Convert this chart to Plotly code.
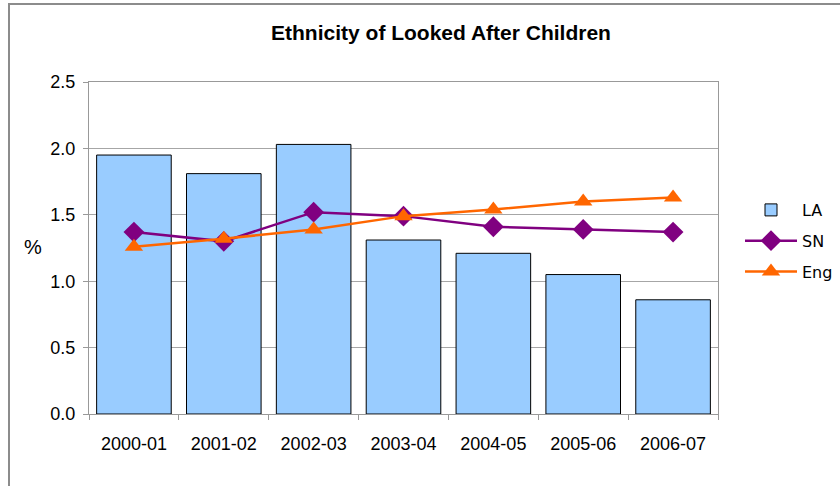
import plotly.graph_objects as go

categories = ["2000-01", "2001-02", "2002-03", "2003-04", "2004-05", "2005-06", "2006-07"]
la_values = [1.95, 1.81, 2.03, 1.31, 1.21, 1.05, 0.86]
sn_values = [1.37, 1.30, 1.52, 1.49, 1.41, 1.39, 1.37]
eng_values = [1.26, 1.32, 1.39, 1.49, 1.54, 1.60, 1.63]
y_ticks = [0, 0.5, 1.0, 1.5, 2.0, 2.5]

W, H = 840, 486
L, R, T, B = 89, 122, 82, 72
pw, ph = W - L - R, H - T - B

fig = go.Figure()
fig.add_trace(go.Bar(
    x=categories, y=la_values, name="LA",
    marker=dict(color="#99CCFF", line=dict(color="#000000", width=1)),
    legendgroup="a",
))
fig.add_trace(go.Scatter(
    x=categories, y=sn_values, name="SN", mode="lines+markers",
    line=dict(color="#800080", width=2.5),
    marker=dict(symbol="diamond", size=16, color="#800080"),
    legendgroup="b",
))
fig.add_trace(go.Scatter(
    x=categories, y=eng_values, name="Eng", mode="lines+markers",
    line=dict(color="#FF6600", width=2.5),
    marker=dict(symbol="triangle-up", size=16, color="#FF6600"),
    legendgroup="c",
))

axis_gray = "#999999"
fig.update_layout(
    width=W, height=H,
    margin=dict(l=L, r=R, t=T, b=B, pad=0, autoexpand=False),
    paper_bgcolor="white", plot_bgcolor="white",
    bargap=0.17,
    title=dict(text="<b>Ethnicity of Looked After Children</b>",
               x=441 / W, xref="container", xanchor="center",
               y=1 - 33 / H, yref="container", yanchor="middle",
               font=dict(family="Liberation Sans, Arial", size=21, color="#000000")),
    font=dict(family="Liberation Sans, Arial", size=18, color="#000000"),
    legend=dict(
        x=(740 - L) / pw, xanchor="left",
        y=(414 - 193) / ph, yanchor="top",
        font=dict(family="DejaVu Sans", size=16, color="#000000"),
        traceorder="grouped", tracegroupgap=7,
        bgcolor="rgba(0,0,0,0)", itemwidth=52,
    ),
    showlegend=True,
)

fig.update_xaxes(
    type="category", showline=True, linecolor=axis_gray, linewidth=1, mirror=True,
    ticks="outside", ticklen=5, tickcolor=axis_gray, tickson="boundaries",
    showgrid=False, ticklabelstandoff=13,
    tickfont=dict(size=18),
)
fig.update_yaxes(
    range=[0, 2.5], tickvals=y_ticks, tickformat=".1f",
    showline=True, linecolor=axis_gray, linewidth=1, mirror=True,
    ticks="outside", ticklen=5, tickcolor=axis_gray, ticklabelstandoff=4,
    showgrid=True, gridcolor="#A6A6A6", gridwidth=1, zeroline=False,
    tickfont=dict(size=18),
)

fig.add_annotation(text="%", x=(33 - L) / pw, y=(414 - 247) / ph, xref="paper", yref="paper",
                   showarrow=False, xanchor="center", yanchor="middle",
                   font=dict(family="Liberation Sans, Arial", size=20, color="#000000"))

fig.add_shape(type="rect", xref="paper", yref="paper",
              x0=(9 - L) / pw, x1=1.5, y0=-0.5, y1=(414 - 4) / ph,
              line=dict(color="#8C8C8C", width=2), fillcolor="rgba(0,0,0,0)", layer="below")

fig.write_html("out.html", config={"displayModeBar": False},
               post_script="document.body.style.margin='0';document.body.style.overflow='hidden';")
